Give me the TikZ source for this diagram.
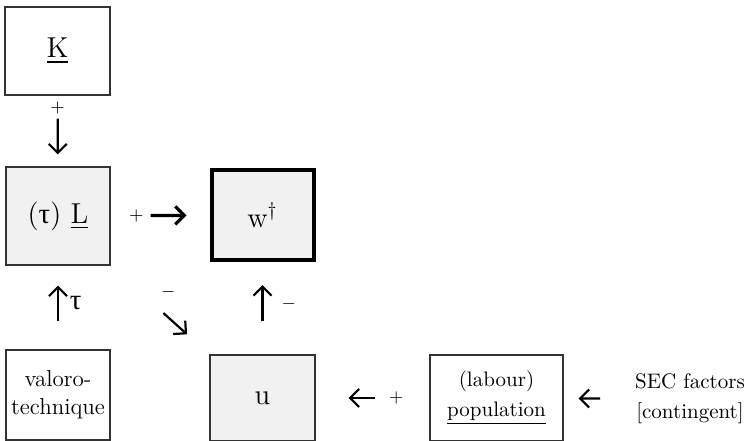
\documentclass[tikz,border=0pt]{standalone}
\usepackage{amsmath}
\usepackage{amssymb}
\usepackage{fontspec}
\usepackage{tikz}
\usetikzlibrary{arrows.meta,positioning,calc}
\newfontfamily\grk{Liberation Serif}

\tikzset{
  box/.style={draw=black!80, line width=0.6pt, align=center, inner sep=2pt},
  shade/.style={fill=gray!11},
  link/.style={-{Straight Barb[length=4.5pt,width=9pt]}, line width=1.1pt},
  sgn/.style={font=\small, inner sep=1pt}
}

\begin{document}
\begin{tikzpicture}[x=0.5pt,y=-0.5pt]
\useasboundingbox (0,0) rectangle (745,440);

% Boxes
\node[box, minimum width=52.5pt, minimum height=44pt, font=\Large] (K) at (57.5,51) {\underline{K}};
\node[box, shade, minimum width=52pt, minimum height=49pt, font=\Large] (L) at (58,216) {({\grk τ}) \underline{L}};
\node[box, shade, draw=black, line width=2pt, minimum width=51pt, minimum height=45pt, font=\Large] (w) at (262.5,215) {w$^{\dagger}$};
\node[box, minimum width=52pt, minimum height=45pt, font=\fontsize{11.5}{14}\selectfont] (valoro) at (58,395) {valoro-\\technique};
\node[box, shade, minimum width=52.5pt, minimum height=43pt, font=\Large] (u) at (262.5,398) {u};
\node[box, minimum width=66.5pt, minimum height=43pt, font=\fontsize{10.5}{15}\selectfont] (pop) at (496.5,398) {(labour)\\\underline{population}};
\node[align=center, font=\fontsize{10.5}{15}\selectfont] (sec) at (690,399) {SEC factors\\{[}contingent{]}};

% Links
\draw[link, shorten <=11.5pt, shorten >=6pt] (K) -- node[sgn, pos=0.17] {$+$} (L);
\draw[link, line width=1.6pt, shorten <=20pt, shorten >=11.5pt] (L) -- node[sgn, pos=0.26] {$+$} (w);
\draw[link, shorten <=14pt, shorten >=10pt] (valoro) -- node[pos=0.55, right=2pt, font=\Large] {\grk τ} (L);
\draw[link, shorten <=16.5pt, shorten >=11.5pt] (u) -- node[sgn, pos=0.55, right=8pt] {$-$} (w);
\draw[link, shorten <=35.5pt, shorten >=15pt] (L.south east) -- node[sgn, pos=0.42, above right=1pt and 3pt] {$-$} (u.north west);
\draw[link, shorten <=27pt, shorten >=16.5pt] (pop) -- node[sgn, pos=0.29] {$+$} (u);
\draw[link, shorten <=14pt, shorten >=7.5pt] (sec) -- (pop);
\end{tikzpicture}
\end{document}
